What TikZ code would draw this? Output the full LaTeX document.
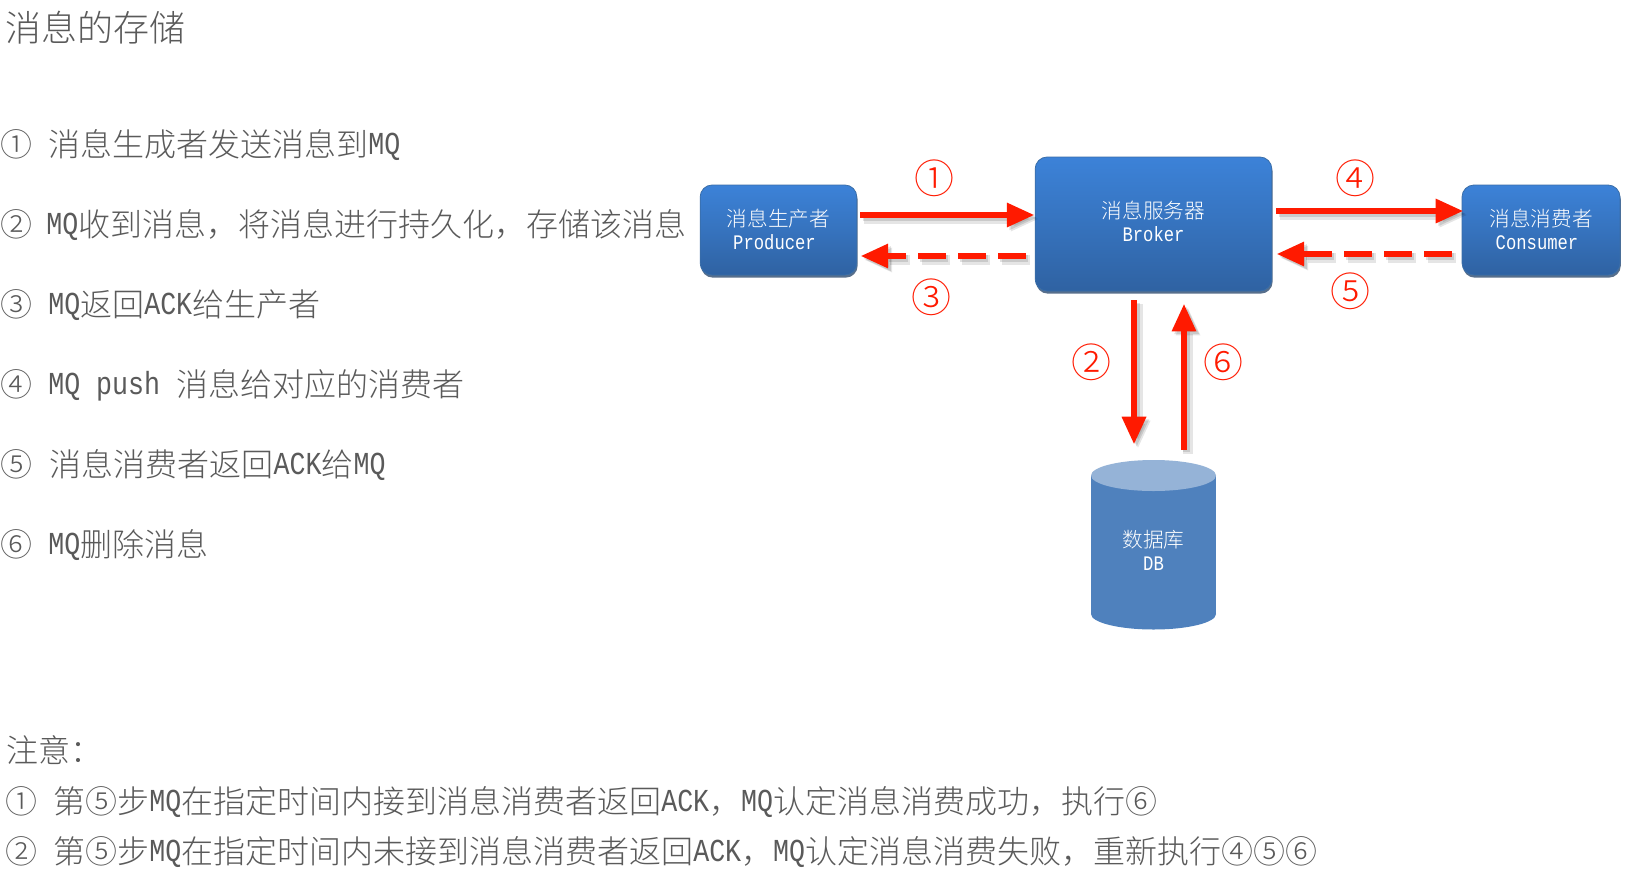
\documentclass[tikz,border=0pt]{standalone}
\usepackage{fontspec}
\setmainfont{Noto Sans CJK SC Light}
\newfontfamily\latf[FakeStretch=0.833]{Liberation Mono}
\usetikzlibrary{arrows.meta,calc,shadows}
\newcommand\ltxt[1]{\raisebox{1.2pt}{\latf #1}}
\newcommand\arrowline[3]{%
  \draw[#1,draw=black,opacity=.10,line width=7.5pt,transform canvas={shift={(3pt,-3pt)}}] #2 -- #3;
  \draw[#1,draw=black,opacity=.12,transform canvas={shift={(2pt,-2pt)}}] #2 -- #3;
  \draw[#1] #2 -- #3;}
\definecolor{txtgray}{HTML}{5A5A5A}
\definecolor{arrred}{HTML}{FF1A00}
\definecolor{boxtop}{HTML}{3C82D8}
\definecolor{boxmid}{HTML}{3673BE}
\definecolor{boxbot}{HTML}{2F62A2}
\definecolor{boxline}{HTML}{3A6EA8}
\definecolor{shadowblue}{HTML}{1F3F66}
\definecolor{dbbody}{HTML}{4F81BD}
\definecolor{dbtop}{HTML}{95B3D7}
\tikzset{
  listtext/.style={anchor=base west,inner sep=0pt,text=txtgray,font=\fontsize{24}{24}\selectfont},
  titletext/.style={anchor=base west,inner sep=0pt,text=txtgray,font=\fontsize{27}{27}\selectfont},
  box label/.style={text=white,align=center,inner sep=0pt,font=\fontsize{15.5}{18.5}\selectfont},
  blue box/.style={rounded corners=9pt,draw=boxline,line width=.6pt,top color=boxtop,bottom color=boxbot,
    middle color=boxmid,drop shadow={shadow xshift=.6pt,shadow yshift=-2pt,opacity=.75,fill=shadowblue},
    box label},
  solidarrow/.style={draw=arrred,line width=5.2pt,-{Triangle[length=21pt,width=17pt]}},
  dasharrow/.style={solidarrow,dash pattern=on 21pt off 9pt},
  steplabel/.style={text=arrred,inner sep=0pt,font=\fontsize{30}{30}\selectfont},
}
\begin{document}
\begin{tikzpicture}[x=0.75pt,y=-0.75pt]
\useasboundingbox[fill=white] (0,0) rectangle (1650,871);
% left text
\node[titletext] (title) at (5,41) {消息的存储};
\node[listtext] (l1) at (0,156) {①\hspace{12pt}消息生成者发送消息到\ltxt{MQ}};
\node[listtext] (l2) at (0,236) {②\hspace{10.5pt}\ltxt{MQ}收到消息，将消息进行持久化，存储该消息};
\node[listtext] (l3) at (0,316) {③\hspace{12pt}\ltxt{MQ}返回\ltxt{ACK}给生产者};
\node[listtext] (l4) at (0,396) {④\hspace{12pt}\ltxt{MQ push }消息给对应的消费者};
\node[listtext] (l5) at (0,476) {⑤\hspace{13pt}消息消费者返回\ltxt{ACK}给\ltxt{MQ}};
\node[listtext] (l6) at (0,556) {⑥\hspace{12pt}\ltxt{MQ}删除消息};
\node[listtext] (n0) at (6,762) {注意：};
\node[listtext] (n1) at (5,813) {①\hspace{12pt}第⑤步\ltxt{MQ}在指定时间内接到消息消费者返回\ltxt{ACK}，\ltxt{MQ}认定消息消费成功，执行⑥};
\node[listtext] (n2) at (5,863) {②\hspace{12pt}第⑤步\ltxt{MQ}在指定时间内未接到消息消费者返回\ltxt{ACK}，\ltxt{MQ}认定消息消费失败，重新执行④⑤⑥};
% boxes
\node[blue box,minimum width=117.5pt,minimum height=67.5pt] (producer) at (778.5,230) {消息生产者\\\hspace*{-6pt}\ltxt{Producer}};
\node[blue box,minimum width=177.5pt,minimum height=100.5pt] (broker) at (1153.5,224) {};
\node[box label] (brokerlabel) at (1153.5,222) {消息服务器\\\ltxt{Broker}};
\node[blue box,minimum width=118.5pt,minimum height=67.5pt] (consumer) at (1541,230) {消息消费者\\\hspace*{-6pt}\ltxt{Consumer}};
% database
\fill[dbbody] (1091,475.5) rectangle (1216,614);
\fill[dbbody] (1153.5,614) ellipse[x radius=62.5,y radius=15.5];
\fill[dbtop] (1153.5,475.5) ellipse[x radius=62.5,y radius=15.5];
\node[minimum width=93.75pt,minimum height=126.75pt,inner sep=0pt] (db) at (1153.5,544.5) {};
\node[box label] (dblabel) at (1153.5,551) {数据库\\\ltxt{DB}};
% connectors
\arrowline{solidarrow}{($(producer.east)+(3,-15)$)}{($(broker.west)+(0,-9)$)}
\arrowline{dasharrow}{($(broker.west)+(-9,32)$)}{($(producer.east)+(3,26)$)}
\arrowline{solidarrow}{($(broker.east)+(4,-13)$)}{($(consumer.west)+(2,-19)$)}
\arrowline{dasharrow}{($(consumer.west)+(-10,24)$)}{($(broker.east)+(4,30)$)}
\arrowline{solidarrow}{($(broker.south)+(-19.5,9)$)}{($(db.north)+(-19.5,-15)$)}
\arrowline{solidarrow}{($(db.north)+(30.5,-10)$)}{($(broker.south)+(30.5,12)$)}
% step labels
\node[steplabel] (s1) at (934,178) {①};
\node[steplabel] (s3) at (931,297) {③};
\node[steplabel] (s4) at (1355,178) {④};
\node[steplabel] (s5) at (1350,291) {⑤};
\node[steplabel] (s2) at (1091,362) {②};
\node[steplabel] (s6) at (1223,362) {⑥};
\end{tikzpicture}
\end{document}
